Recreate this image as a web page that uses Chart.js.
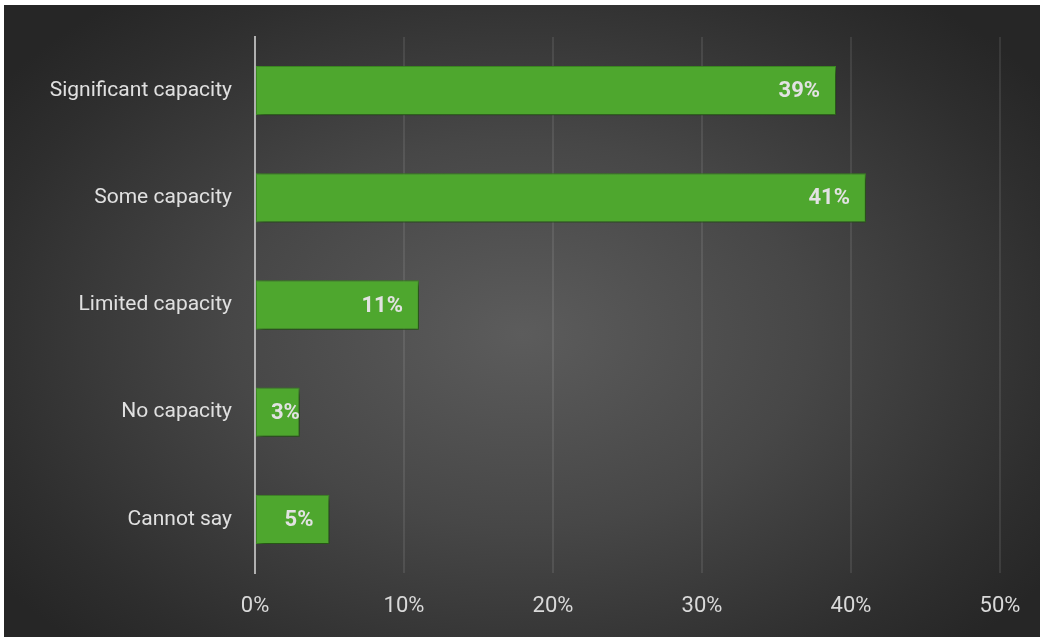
<!DOCTYPE html>
<html>
<head>
<meta charset="utf-8">
<script src="https://cdn.jsdelivr.net/npm/chart.js@4"></script>
<style>
  html, body { margin: 0; padding: 0; background: #ffffff; overflow: hidden; }
  #panel {
    position: absolute;
    left: 4px; top: 5px;
    width: 1036px; height: 632px;
    background: radial-gradient(ellipse 62% 68% at 50% 52%, #5c5c5c 0%, #474747 45%, #2e2e2e 85%, #262626 100%);
  }
  #chartKapasitas { position: absolute; left: 0; top: 0; }
</style>
</head>
<body>
<div id="panel"></div>
<canvas id="chartKapasitas" width="1042" height="638"></canvas>
<script>
const categories = [
  'Significant capacity',
  'Some capacity',
  'Limited capacity',
  'No capacity',
  'Cannot say'
];

const shares = [39, 41, 11, 3, 5];

const tickValues = [0, 10, 20, 30, 40, 50];

// shadow under the bars
const barShadow = {
  id: 'barShadow',
  beforeDatasetsDraw(chart) {
    const ctx = chart.ctx;
    ctx.save();
    ctx.shadowColor = 'rgba(0,0,0,0.5)';
    ctx.shadowBlur = 6;
    ctx.shadowOffsetX = 3;
    ctx.shadowOffsetY = 3;
  },
  afterDatasetsDraw(chart) {
    chart.ctx.restore();
  }
};

// value labels at the inner end of each bar
const valueLabels = {
  id: 'valueLabels',
  afterDatasetsDraw(chart) {
    const ctx = chart.ctx;
    const meta = chart.getDatasetMeta(0);
    ctx.save();
    ctx.font = 'bold 22px Roboto';
    ctx.fillStyle = '#e2e2e2';
    ctx.textAlign = 'right';
    ctx.textBaseline = 'middle';
    meta.data.forEach((bar, i) => {
      const text = shares[i] + '%';
      const w = ctx.measureText(text).width;
      const x = Math.max(bar.x - 16, bar.base + 15 + w);
      ctx.fillText(text, x, bar.y + 1);
    });
    ctx.restore();
  }
};

const ctx =
  document
    .getElementById('chartKapasitas')
    .getContext('2d');

const chart = new Chart(ctx, {
  type: 'bar',
  data: {
    labels: categories,
    datasets: [
      {
        data: shares,
        backgroundColor: '#4ea72e',
        borderColor: '#3f8f24',
        borderWidth: 1,
        borderSkipped: false,
        categoryPercentage: 0.92,
        barPercentage: 0.5
      }
    ]
  },
  plugins: [barShadow, valueLabels],
  options: {
    indexAxis: 'y',
    responsive: false,
    animation: false,
    devicePixelRatio: 1,
    layout: {
      padding: { left: 0, right: 42, top: 37, bottom: 0 }
    },
    plugins: {
      legend: { display: false },
      tooltip: { enabled: false }
    },
    scales: {
      x: {
        min: 0,
        max: 50,
        afterBuildTicks(scale) {
          scale.ticks = tickValues.map(v => ({ value: v }));
        },
        afterFit(scale) {
          scale.height = 65;
        },
        ticks: {
          padding: 20,
          maxRotation: 0,
          color: '#d9d9d9',
          font: { family: 'Roboto', size: 22 },
          callback: v => v + '%'
        },
        grid: {
          color: 'rgba(255,255,255,0.09)',
          lineWidth: 2,
          drawTicks: false
        },
        border: { display: false }
      },
      y: {
        afterFit(scale) {
          scale.width = 255;
        },
        ticks: {
          padding: 23,
          color: '#e0e0e0',
          font: { family: 'Roboto', size: 21 }
        },
        grid: { display: false, drawTicks: false },
        border: { display: true, color: '#b0b0b0', width: 2 }
      }
    }
  }
});
</script>
</body>
</html>
